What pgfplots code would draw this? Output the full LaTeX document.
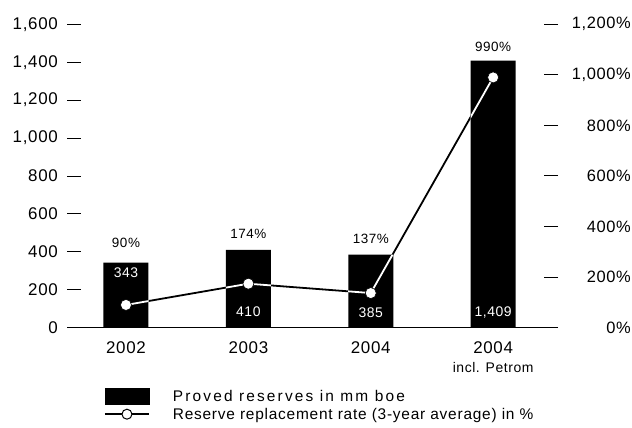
\documentclass[border=0pt]{standalone}
\usepackage{fontspec}
\setmainfont{Liberation Sans}[LetterSpace=4]
\newfontfamily\legfont{Liberation Sans}[LetterSpace=5]
\newfontfamily\legfontwide{Liberation Sans}[LetterSpace=14]
\usepackage{pgfplots}
\pgfplotsset{compat=1.18}
\newcommand{\fs}[1]{\fontsize{#1}{#1}\selectfont}

\begin{document}
\begin{tikzpicture}
  % left axis: proved reserves (bars)
  \begin{axis}[
      name=ax,
      scale only axis, width=491bp, height=303.4bp,
      xmin=-0.482, xmax=3.53, ymin=0, ymax=1600,
      axis x line*=bottom, axis y line*=left,
      y axis line style={draw=none},
      x axis line style={line width=1.3bp},
      xtick={0,1,2,3},
      xticklabels={2002,2003,2004,{2004\\[2bp]{\fs{14}incl. Petrom}}},
      xticklabel style={align=center, font=\fs{17}, inner sep=0pt, anchor=north, yshift=-14bp},
      major x tick style={draw=none},
      ytick={0,200,...,1600},
      yticklabels={0,200,400,600,800,{1,000},{1,200},{1,400},{1,600}},
      yticklabel style={font=\fs{17}, inner sep=0pt, anchor=east, xshift=-9bp},
      tick align=inside, major tick length=14bp,
      major y tick style={line width=1bp, black},
      legend style={draw=none, fill=none, at={(0.069,-0.193)}, anchor=north west,
        font=\legfont\fs{15.5}, row sep=3bp, column sep=23bp, nodes={inner sep=0pt},
        cells={anchor=west}},
  ]
    \addplot[ybar, bar width=45bp, fill=black, draw=none, forget plot]
      coordinates {(0,343) (1,410) (2,385) (3,1409)};
    \addlegendimage{legend image code/.code={\fill[black] (0bp,-8bp) rectangle (44bp,8bp);}}
    \addlegendentry{\legfontwide Proved reserves in mm boe}
    \addlegendimage{legend image code/.code={
        \draw[black, line width=1.8bp] (0bp,0bp) -- (44bp,0bp);
        \draw[black, fill=white, line width=1bp] (22bp,0bp) circle (5bp);}}
    \addlegendentry{Reserve replacement rate (3-year average) in \%}
    % value labels
    \node[font=\fs{14}, white] at (axis cs:0,288.5) {343};
    \node[font=\fs{14}, white] at (axis cs:1,82.8) {410};
    \node[font=\fs{14}, white] at (axis cs:2,77.5) {385};
    \node[font=\fs{14}, white] at (axis cs:3,77.5) {1,409};
    \node[font=\fs{13.5}] at (axis cs:0,446.7) {90\%};
    \node[font=\fs{13.5}] at (axis cs:1,494) {174\%};
    \node[font=\fs{13.5}] at (axis cs:2,468) {137\%};
    \node[font=\fs{13.5}] at (axis cs:3,1480) {990\%};
  \end{axis}
  % right axis: reserve replacement rate (line)
  \begin{axis}[
      scale only axis, width=491bp, height=303.4bp,
      xmin=-0.482, xmax=3.53, ymin=0, ymax=1200,
      axis x line=none, axis y line*=right,
      y axis line style={draw=none},
      ytick={0,200,...,1200},
      yticklabels={0\%,200\%,400\%,600\%,800\%,{1,000\%},{1,200\%}},
      yticklabel style={font=\fs{16.5}, inner sep=0pt, anchor=east, xshift=73bp},
      tick align=inside, major tick length=14bp,
      major y tick style={line width=1bp, black},
  ]
    \addplot[black, line width=1.8bp, mark=none]
      coordinates {(0,90) (1,174) (2,137) (3,990)};
    % the line turns white where it crosses the black bars
    \begin{scope}
      \clip (axis cs:-0.184,0) rectangle (axis cs:0.184,257.25)
            (axis cs:0.816,0) rectangle (axis cs:1.184,307.5)
            (axis cs:1.816,0) rectangle (axis cs:2.184,288.75)
            (axis cs:2.816,0) rectangle (axis cs:3.184,1056.75);
      \addplot[white, line width=1.8bp, mark=none]
        coordinates {(0,90) (1,174) (2,137) (3,990)};
    \end{scope}
    \addplot[only marks, mark=*, mark size=5.5bp, mark options={fill=white, draw=black, line width=0.6bp}]
      coordinates {(0,90) (1,174) (2,137) (3,990)};
  \end{axis}
  \pgfresetboundingbox
  \path ([shift={(-67bp,-100.3bp)}]ax.south west) rectangle ([shift={(74bp,24.3bp)}]ax.north east);
\end{tikzpicture}
\end{document}
